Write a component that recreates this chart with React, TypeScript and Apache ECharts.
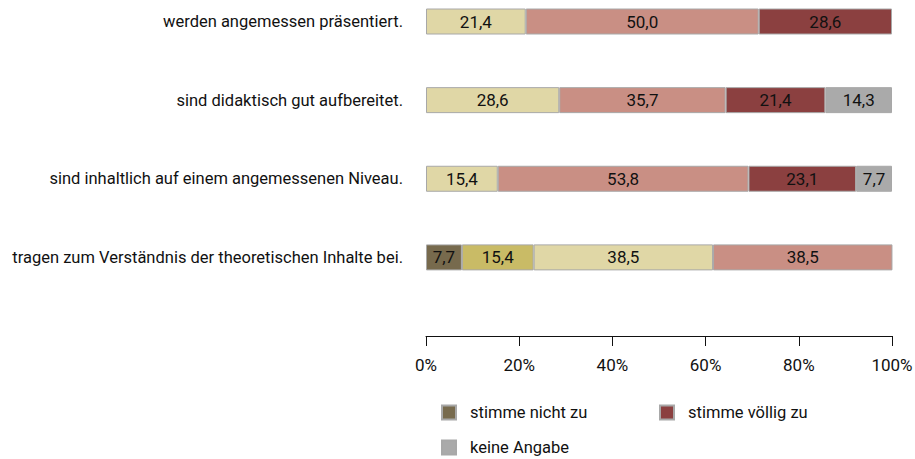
import React, { useEffect, useRef } from "react";
import * as echarts from "echarts";

const categories = [
  "werden angemessen präsentiert.",
  "sind didaktisch gut aufbereitet.",
  "sind inhaltlich auf einem angemessenen Niveau.",
  "tragen zum Verständnis der theoretischen Inhalte bei.",
  "",
];

const seriesNames = [
  "stimme nicht zu",
  "stimme eher nicht zu",
  "stimme eher zu",
  "stimme zu",
  "stimme völlig zu",
  "keine Angabe",
];

const stimmeNichtZu = [null, null, null, 7.7];
const stimmeEherNichtZu = [null, null, null, 15.4];
const stimmeEherZu = [21.4, 28.6, 15.4, 38.5];
const stimmeZu = [50.0, 35.7, 53.8, 38.5];
const stimmeVoelligZu = [28.6, 21.4, 23.1, null];
const keineAngabe = [null, 14.3, 7.7, null];

const xTicks = [0, 20, 40, 60, 80, 100];

const colors = ["#776a4d", "#c9bb66", "#e0d7a6", "#c98f84", "#8b4040", "#aaaaaa"];

const FONT = "Roboto, sans-serif";

export default function App() {
  const ref = useRef<HTMLDivElement>(null);
  useEffect(() => {
    if (!ref.current) return;
    const chart = echarts.init(ref.current, null, { renderer: "svg" });
    const allData = [stimmeNichtZu, stimmeEherNichtZu, stimmeEherZu, stimmeZu, stimmeVoelligZu, keineAngabe];
    const series = allData.map((d, i) => ({
      name: seriesNames[i],
      type: "bar",
      stack: "total",
      barWidth: 26,
      data: d,
      itemStyle: { color: colors[i], borderColor: "#a8a8a8", borderWidth: 1 },
      label: {
        show: true,
        position: "inside",
        color: "#111",
        fontFamily: FONT,
        fontSize: 17,
        formatter: (p: any) => (p.value == null ? "" : Number(p.value).toFixed(1).replace(".", ",")),
      },
    }));
    const legendBase = {
      icon: "rect",
      itemWidth: 14,
      itemHeight: 14,
      padding: 0,
      selectedMode: false,
      textStyle: { fontFamily: FONT, fontSize: 16.5, color: "#111", padding: [0, 0, 0, 9] },
    };
    chart.setOption({
      animation: false,
      textStyle: { fontFamily: FONT },
      grid: { left: 426, right: 23, top: 21.5, bottom: 123, outerBoundsMode: "none", containLabel: false },
      legend: [
        { ...legendBase, data: [seriesNames[0]], left: 441, top: 404 },
        { ...legendBase, data: [seriesNames[4]], left: 659, top: 404 },
        { ...legendBase, data: [seriesNames[5]], left: 441, top: 439 },
      ],
      xAxis: {
        type: "value",
        min: xTicks[0],
        max: xTicks[xTicks.length - 1],
        interval: 20,
        axisLine: { show: true, lineStyle: { color: "#111", width: 1 } },
        axisTick: { show: true, length: 10, lineStyle: { color: "#111" } },
        splitLine: { show: false },
        axisLabel: { formatter: "{value}%", color: "#111", fontFamily: FONT, fontSize: 17, margin: 20 },
      },
      yAxis: {
        type: "category",
        data: categories,
        inverse: true,
        boundaryGap: false,
        axisLine: { show: false },
        axisTick: { show: false },
        splitLine: { show: false },
        axisLabel: { color: "#111", fontFamily: FONT, fontSize: 16.5, margin: 23 },
      },
      series,
    });
    return () => chart.dispose();
  }, []);
  return <div ref={ref} style={{ width: 915, height: 459, position: "absolute", left: 0, top: 0 }} />;
}
